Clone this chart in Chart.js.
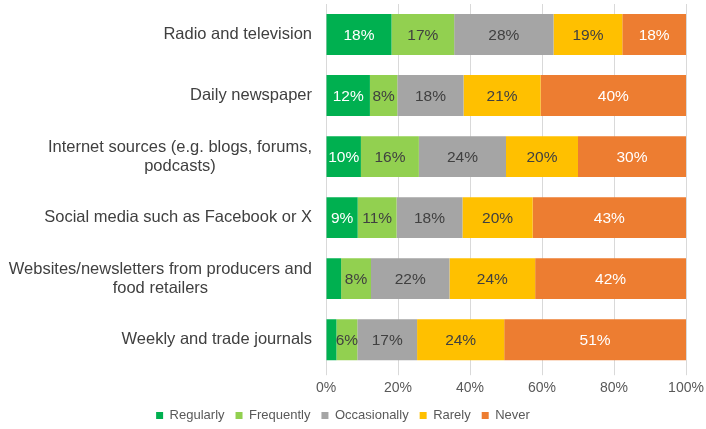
<!DOCTYPE html>
<html>
<head>
<meta charset="utf-8">
<script src="https://cdn.jsdelivr.net/npm/chart.js@4"></script>
<style>
  html, body { margin: 0; padding: 0; background: #fff; }
  #wrap { width: 706px; height: 429px; }
</style>
</head>
<body>
<div id="wrap"><canvas id="chart"></canvas></div>
<script>
// Kategorie i wartości (%)
const categories = [
    'Radio and television',
    'Daily newspaper',
    ['Internet sources (e.g. blogs, forums,', 'podcasts)'],
    'Social media such as Facebook or X',
    ['Websites/newsletters from producers and', 'food retailers'],
    'Weekly and trade journals'
];
const regularly    = [18.2, 12.2, 9.7, 8.8, 4.2, 2.9];
const frequently   = [17.4, 7.6, 16.1, 10.8, 8.3, 5.8];
const occasionally = [27.6, 18.4, 24.2, 18.3, 21.8, 16.6];
const rarely       = [19.1, 21.4, 20.0, 19.5, 23.8, 24.2];
const never        = [17.7, 40.4, 30.0, 42.6, 41.9, 50.5];
const xTicks = [0, 20, 40, 60, 80, 100];

const FONT = '"Liberation Sans", Arial, sans-serif';

// Etykiety wartości na segmentach
const barLabels = {
    id: 'barLabels',
    afterDatasetsDraw(chart) {
        const ctx = chart.ctx;
        ctx.save();
        ctx.font = '15.5px ' + FONT;
        ctx.textAlign = 'center';
        ctx.textBaseline = 'middle';
        chart.data.datasets.forEach((ds, i) => {
            const meta = chart.getDatasetMeta(i);
            meta.data.forEach((bar, j) => {
                const v = ds.data[j];
                if (v < 5) return;
                const cx = (bar.x + bar.base) / 2;
                ctx.fillStyle = ds.labelColor;
                ctx.fillText(Math.round(v) + '%', cx, bar.y + 1);
            });
        });
        ctx.restore();
    }
};

// Etykiety kategorii - wiersze wyśrodkowane w bloku wyrównanym do prawej
const categoryLabels = {
    id: 'categoryLabels',
    afterDraw(chart) {
        const ctx = chart.ctx;
        const yScale = chart.scales.y;
        const right = yScale.right - 14;
        const lineH = 19;
        ctx.save();
        ctx.font = '16.5px ' + FONT;
        ctx.fillStyle = '#404040';
        ctx.textBaseline = 'middle';
        ctx.textAlign = 'center';
        chart.data.labels.forEach((lab, i) => {
            const lines = Array.isArray(lab) ? lab : [lab];
            const w = Math.max(...lines.map(l => ctx.measureText(l).width));
            const cx = right - w / 2;
            const cy = yScale.getPixelForTick(i);
            const y0 = cy - (lines.length - 1) * lineH / 2;
            lines.forEach((l, k) => ctx.fillText(l, cx, y0 + k * lineH));
        });
        ctx.restore();
    }
};

const ctx = document.getElementById('chart').getContext('2d');
new Chart(ctx, {
    type: 'bar',
    data: {
        labels: categories,
        datasets: [
            { label: 'Regularly', data: regularly, backgroundColor: '#00B050', labelColor: '#ffffff' },
            { label: 'Frequently', data: frequently, backgroundColor: '#92D050', labelColor: '#404040' },
            { label: 'Occasionally', data: occasionally, backgroundColor: '#A5A5A5', labelColor: '#404040' },
            { label: 'Rarely', data: rarely, backgroundColor: '#FFC000', labelColor: '#404040' },
            { label: 'Never', data: never, backgroundColor: '#ED7D31', labelColor: '#ffffff' }
        ]
    },
    options: {
        indexAxis: 'y',
        responsive: true,
        maintainAspectRatio: false,
        animation: false,
        layout: { padding: { top: 4, right: 20, bottom: -3, left: 0 } },
        datasets: {
            bar: { categoryPercentage: 0.67, barPercentage: 1, borderWidth: 0 }
        },
        scales: {
            x: {
                stacked: true,
                min: 0,
                max: 100,
                afterBuildTicks: s => { s.ticks = xTicks.map(v => ({ value: v })); },
                afterFit: s => { s.height -= 4; s.paddingRight = 0; s.paddingLeft = 0; },
                grid: { color: '#D9D9D9', drawTicks: true, tickLength: 5 },
                border: { display: false },
                ticks: {
                    color: '#595959',
                    font: { family: FONT, size: 14 },
                    padding: 5,
                    callback: v => v + '%'
                }
            },
            y: {
                stacked: true,
                grid: { display: false },
                border: { display: false },
                afterFit: s => { s.width = 326; },
                ticks: { display: false }
            }
        },
        plugins: {
            legend: {
                position: 'bottom',
                labels: {
                    boxWidth: 7,
                    boxHeight: 7,
                    padding: 11,
                    color: '#595959',
                    font: { family: FONT, size: 13 }
                }
            },
            tooltip: { enabled: false }
        }
    },
    plugins: [barLabels, categoryLabels]
});
</script>
</body>
</html>
